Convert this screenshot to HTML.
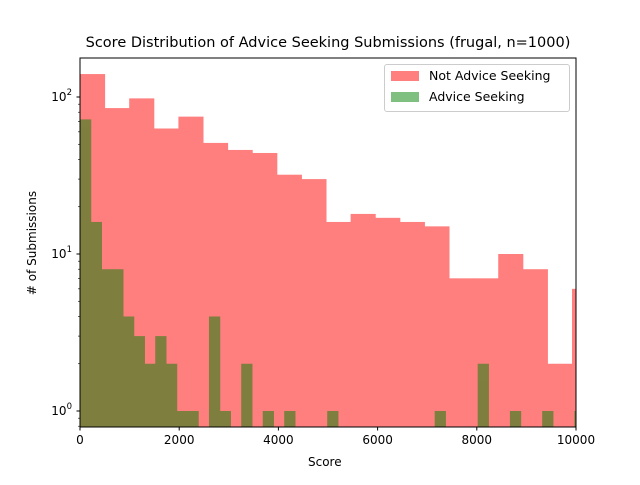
<!DOCTYPE html>
<html><head><meta charset="utf-8"><style>
body{margin:0;background:#fff;font-family:"Liberation Sans",sans-serif;}
svg text{font-family:"DejaVu Sans","Liberation Sans",sans-serif;}
</style></head><body>
<svg id="c" width="640" height="480" viewBox="0 0 640 480"></svg>
<script>
const redCounts=[140,85,98,63,75,51,46,44,32,30,16,18,17,16,15,7,7,10,8,2,6];
const greenBins=[0,1,2,3,4,5,6,7,8,9,10,12,13,15,17,19,23,33,37,40,43,46];
const greenCounts=[72,16,8,8,4,3,2,3,2,1,1,4,1,2,1,1,1,1,2,1,1,1];
const redWidth=496, greenWidth=216.7;
const xTicks=[0,2000,4000,6000,8000,10000];
const yTicks=[1,10,100];
const L=80,R=576,T=58,B=427;
const xs=v=>L+(v/10000)*(R-L);
const ys=v=>411-(Math.log10(v))*157;
const svg=document.getElementById('c');
const NS='http://www.w3.org/2000/svg';
function mk(t,a,p){const e=document.createElementNS(NS,t);for(const k in a)e.setAttribute(k,a[k]);(p||svg).appendChild(e);return e;}
const clip=mk('clipPath',{id:'pc'});mk('rect',{x:L,y:T,width:R-L,height:B-T},clip);
const g=mk('g',{'clip-path':'url(#pc)'});
const gr=mk('g',{opacity:0.5},g);
const gg=mk('g',{opacity:0.5},g);
redCounts.forEach((c,i)=>{const x0=xs(i*redWidth),x1=xs((i+1)*redWidth);
const r=mk('rect',{x:x0,y:ys(c),width:x1-x0+0.5,height:B-ys(c)+5,fill:'#ff0000'},gr);

});
greenBins.forEach((b,i)=>{const c=greenCounts[i];const x0=xs(b*greenWidth),x1=xs((b+1)*greenWidth);
const r=mk('rect',{x:x0,y:ys(c),width:x1-x0+0.5,height:B-ys(c)+5,fill:'#008000'},gg);

});
mk('rect',{x:L,y:T,width:R-L,height:B-T,fill:'none',stroke:'#000','stroke-width':1});
xTicks.forEach(v=>{const x=xs(v);mk('line',{x1:x,x2:x,y1:B,y2:B+3.5,stroke:'#000'});
const t=mk('text',{x:x,y:B+17,'text-anchor':'middle','font-size':12});t.textContent=v;

});
yTicks.forEach((v,i)=>{const y=ys(v);mk('line',{x1:L-3.5,x2:L,y1:y,y2:y,stroke:'#000'});
const t=mk('text',{x:L-8,y:y+4,'text-anchor':'end','font-size':12});t.innerHTML='10<tspan dy="-6" font-size="8.5">'+i+'</tspan>';

});
for(let d=-1;d<3;d++)for(let m=2;m<10;m++){const v=m*Math.pow(10,d);const y=ys(v);if(y<T||y>B)continue;mk('line',{x1:L-2,x2:L,y1:y,y2:y,stroke:'#000','stroke-width':0.6});}
</script>
<div style="position:absolute;left:0;top:35px;width:656px;text-align:center;font-size:14.5px;font-family:'DejaVu Sans','Liberation Sans',sans-serif">Score Distribution of Advice Seeking Submissions (frugal, n=1000)</div>
<div style="position:absolute;left:308px;top:455px;font-size:12px;font-family:'DejaVu Sans','Liberation Sans',sans-serif">Score</div>
<div style="position:absolute;left:24px;top:243px;font-size:12px;transform:translate(-50%,-50%) rotate(-90deg);transform-origin:center;white-space:nowrap;margin-left:8px;font-family:'DejaVu Sans','Liberation Sans',sans-serif"># of Submissions</div>
<div style="position:absolute;left:384px;top:64px;width:184px;height:46px;border:1px solid #ccc;border-radius:3px;background:#fff;font-size:12.5px;font-family:'DejaVu Sans','Liberation Sans',sans-serif">
<div style="position:absolute;left:6px;top:6px;width:28px;height:10px;background:rgba(255,0,0,0.5)"></div>
<div style="position:absolute;left:44px;top:3px">Not Advice Seeking</div>
<div style="position:absolute;left:6px;top:27px;width:28px;height:10px;background:rgba(0,128,0,0.5)"></div>
<div style="position:absolute;left:44px;top:24px">Advice Seeking</div>
</div>
</body></html>
